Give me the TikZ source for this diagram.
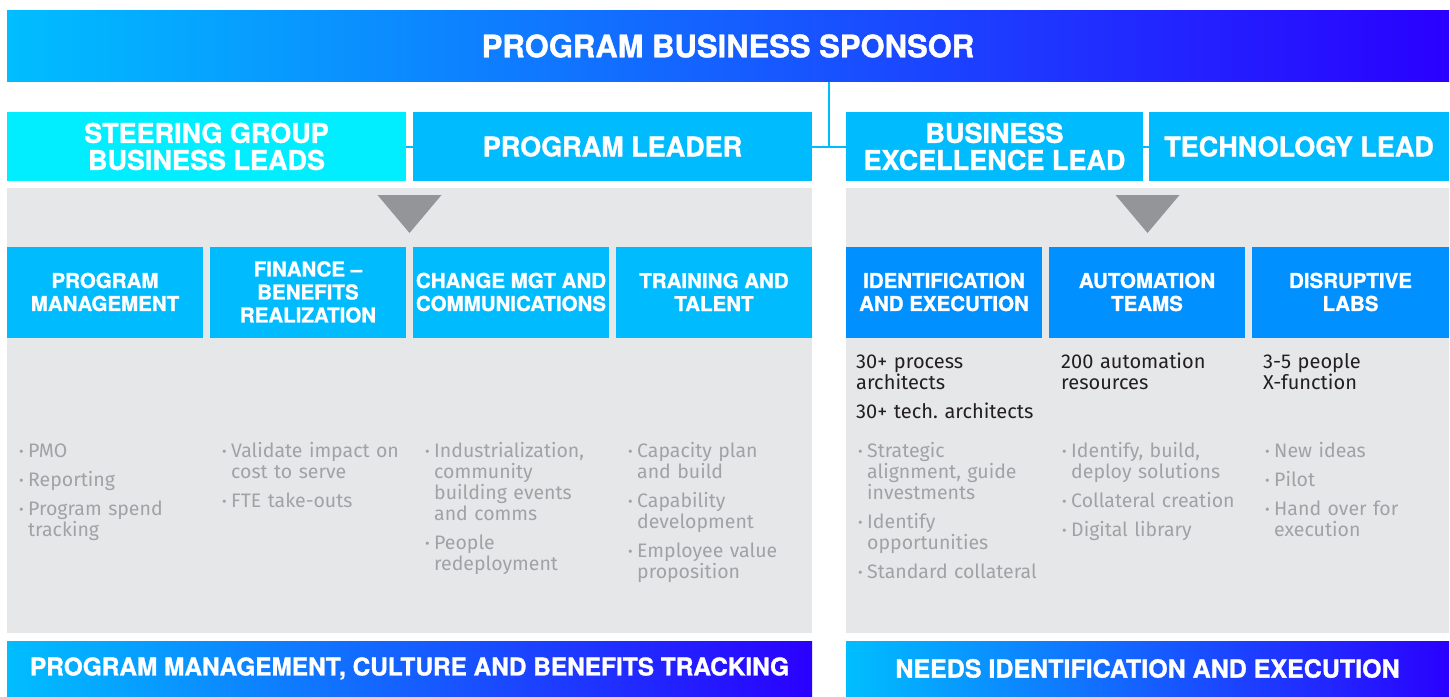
\documentclass[tikz,border=0pt]{standalone}
\usepackage{fontspec}
\setmainfont{Fira Sans}
\newfontfamily\headfamily{TeX Gyre Heros}[BoldFeatures={FakeBold=1.2}]
\newcommand{\headfont}{\headfamily\bfseries}
\definecolor{skyblue}{RGB}{0,188,255}
\definecolor{aquablue}{RGB}{0,238,255}
\definecolor{deepblue}{RGB}{0,144,255}
\definecolor{gradstart}{RGB}{0,190,255}
\definecolor{gradend}{RGB}{42,0,255}
\definecolor{panelgray}{RGB}{230,231,233}
\definecolor{arrowgray}{RGB}{147,149,152}
\definecolor{notegray}{RGB}{160,162,165}
\definecolor{factblack}{RGB}{35,31,32}
\newcommand{\bul}[1]{\hangindent=9pt\hangafter=1\noindent\makebox[9pt][l]{\raisebox{1pt}{\fontsize{14}{14}\selectfont\textbullet}}{\def\\{\hfil\break}#1}\par}
\tikzstyle{banner} = [minimum height=71pt, inner sep=0pt, outer sep=0pt, text=white, left color=gradstart, right color=gradend, font=\headfont\fontsize{31}{31}\selectfont]
\tikzstyle{footer} = [banner, minimum height=55pt, font=\headfont\fontsize{25}{25}\selectfont]
\tikzstyle{lead} = [minimum height=69pt, inner sep=0pt, outer sep=0pt, fill=skyblue, text=white, align=center, font=\headfont\fontsize{27}{27}\selectfont]
\tikzstyle{panel} = [minimum height=445pt, inner sep=0pt, outer sep=0pt, fill=panelgray]
\tikzstyle{head} = [minimum width=196pt, minimum height=91pt, inner sep=0pt, outer sep=0pt, fill=skyblue, text=white, align=center, font=\headfont\fontsize{20.5}{23}\selectfont]
\tikzstyle{notes} = [anchor=base west, inner sep=0pt, text width=200pt, align=left, text=notegray, font=\fontsize{19.5}{21}\selectfont\frenchspacing\setlength{\parskip}{8pt}]
\tikzstyle{facts} = [notes, text=factblack, font=\fontsize{20}{21}\selectfont\frenchspacing\setlength{\parskip}{8pt}]
\tikzstyle{link} = [draw=skyblue, line width=2pt]
\tikzstyle{pointer} = [fill=arrowgray]

\begin{document}
\begin{tikzpicture}[x=1pt,y=-1pt]
  \useasboundingbox (0,0) rectangle (1450,696);
  \node (sponsor) at (728,46) [banner, minimum width=1442pt] {PROGRAM BUSINESS SPONSOR};
  \node (steer) at (206.5,146.5) [lead, minimum width=399pt, fill=aquablue] {STEERING GROUP\\BUSINESS LEADS};
  \node (leader) at (612.5,146.5) [lead, minimum width=399pt] {PROGRAM LEADER};
  \node (excel) at (994.5,146.5) [lead, minimum width=297pt] {BUSINESS\\EXCELLENCE LEAD};
  \node (tech) at (1299,146.5) [lead, minimum width=300pt] {TECHNOLOGY LEAD};
  \coordinate (hub) at (829,146.5);
  \draw [link] (sponsor.south -| hub) -- (hub);
  \draw [link] (leader) -- (excel);
  \draw [link] (steer) -- (leader);
  \draw [link] (excel) -- (tech);

  \node (lpanel) at (409.5,410.5) [panel, minimum width=805pt] {};
  \node (rpanel) at (1147.5,410.5) [panel, minimum width=603pt] {};
  \fill [pointer] ([xshift=-32pt,yshift=-7pt]lpanel.north) -- ++(64,0) -- ++(-32,38) -- cycle;
  \fill [pointer] ([xshift=-32pt,yshift=-7pt]rpanel.north) -- ++(64,0) -- ++(-32,38) -- cycle;

  \node (pm) at (105,292) [head] {PROGRAM\\MANAGEMENT};
  \node (fin) at (308,292) [head] {FINANCE –\\BENEFITS\\REALIZATION};
  \node (chg) at (511,292) [head] {CHANGE MGT AND\\COMMUNICATIONS};
  \node (tal) at (714,292) [head] {TRAINING AND\\TALENT};
  \node (ide) at (944,292) [head, fill=deepblue] {IDENTIFICATION\\AND EXECUTION};
  \node (aut) at (1147,292) [head, fill=deepblue] {AUTOMATION\\TEAMS};
  \node (lab) at (1350.5,292) [head, fill=deepblue, minimum width=197pt] {DISRUPTIVE\\LABS};

  \node (idefacts) at (856,368) [facts] {30+ process\\architects\par 30+ tech. architects};
  \node (autfacts) at (1061,368) [facts] {200 automation\\resources};
  \node (labfacts) at (1263,368) [facts] {3-5 people\\X-function};

  \node (pmnotes) at (19,457) [notes] {\bul{PMO}\bul{Reporting}\bul{Program spend\\tracking}};
  \node (finnotes) at (222,457) [notes] {\bul{Validate impact on\\cost to serve}\bul{FTE take-outs}};
  \node (chgnotes) at (425,457) [notes] {\bul{Industrialization,\\community\\building events\\and comms}\bul{People\\redeployment}};
  \node (talnotes) at (628,457) [notes] {\bul{Capacity plan\\and build}\bul{Capability\\development}\bul{Employee value\\proposition}};
  \node (idenotes) at (858,457) [notes] {\bul{Strategic\\alignment, guide\\investments}\bul{Identify\\opportunities}\bul{Standard collateral}};
  \node (autnotes) at (1062,457) [notes] {\bul{Identify, build,\\deploy solutions}\bul{Collateral creation}\bul{Digital library}};
  \node (labnotes) at (1265,457) [notes] {\bul{New ideas}\bul{Pilot}\bul{Hand over for\\execution}};

  \node (culture) at (409.5,668.5) [footer, minimum width=805pt, font=\headfont\fontsize{24.4}{25}\selectfont] {PROGRAM MANAGEMENT, CULTURE AND BENEFITS TRACKING};
  \node (needs) at (1147.5,668.5) [footer, minimum width=603pt] {NEEDS IDENTIFICATION AND EXECUTION};
\end{tikzpicture}
\end{document}
